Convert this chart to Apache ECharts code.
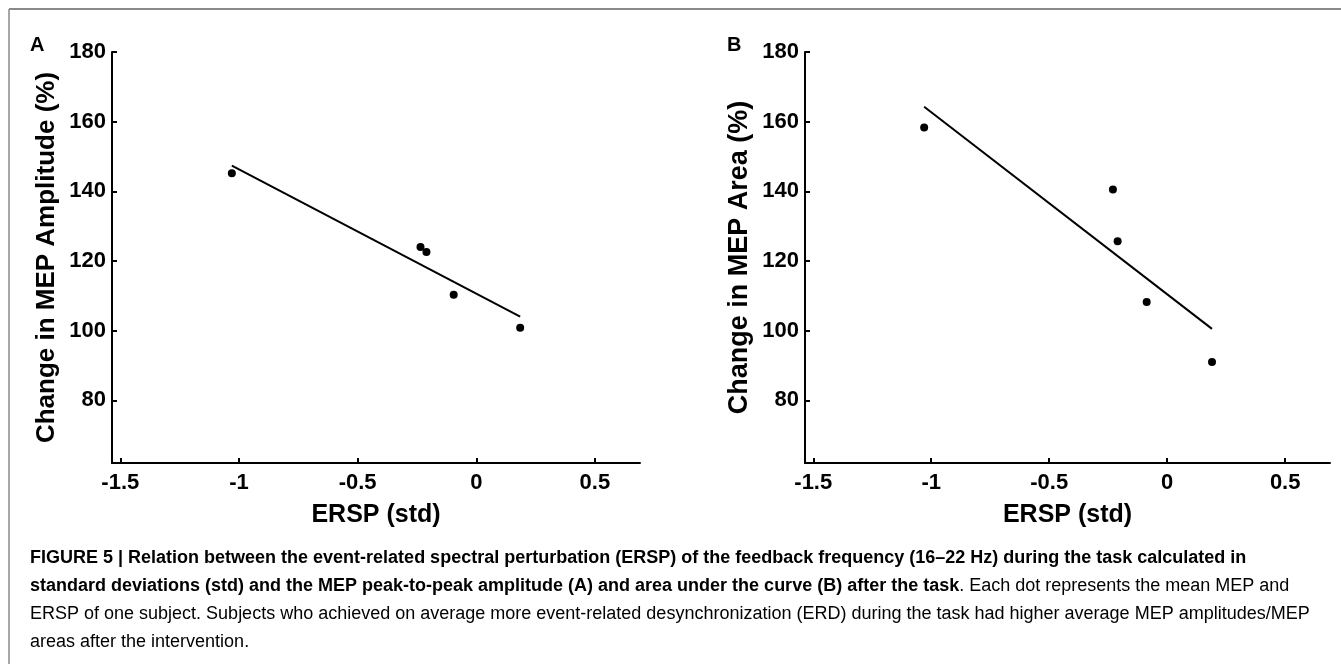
<!DOCTYPE html>
<html>
<head>
<meta charset="utf-8">
<script src="https://cdn.jsdelivr.net/npm/echarts@6/dist/echarts.min.js"></script>
<style>
  html, body { margin: 0; padding: 0; background: #fff; }
  #chart { width: 1341px; height: 664px; }
</style>
</head>
<body>
<div id="chart"></div>
<script>
// ERSP (std) vs change in MEP, one dot per subject
const ampPoints = [[-1.03, 145.2], [-0.235, 124.0], [-0.21, 122.6], [-0.095, 110.3], [0.185, 100.8]]
const ampFit = [[-1.03, 147.4], [0.185, 104.0]]
const areaPoints = [[-1.03, 158.3], [-0.23, 140.5], [-0.21, 125.7], [-0.087, 108.2], [0.19, 91.0]]
const areaFit = [[-1.03, 164.3], [0.19, 100.5]]
const xTicks = [-1.5, -1, -0.5, 0, 0.5]
const yTicks = [80, 100, 120, 140, 160, 180]

const font = '"Liberation Sans", Arial, sans-serif'

const chart = echarts.init(document.getElementById('chart'))

const makeX = (idx) => ({
  type: 'value',
  gridIndex: idx,
  min: -1.535,
  max: 0.69,
  name: 'ERSP (std)',
  nameLocation: 'middle',
  nameGap: 40,
  nameTextStyle: { color: '#000', fontSize: 25, fontWeight: 'bold', fontFamily: font },
  axisLine: { onZero: false, lineStyle: { color: '#000', width: 2 } },
  axisTick: { inside: true, length: 5, customValues: xTicks, lineStyle: { color: '#000', width: 2 } },
  axisLabel: {
    customValues: xTicks,
    margin: 9,
    color: '#000',
    fontSize: 22,
    fontWeight: 'bold',
    fontFamily: font,
    formatter: (v) => String(v)
  },
  splitLine: { show: false }
})

const makeY = (idx, name, size, gap) => ({
  type: 'value',
  gridIndex: idx,
  min: 62,
  max: 180,
  name: name,
  nameLocation: 'middle',
  nameGap: gap,
  nameTextStyle: { color: '#000', fontSize: size, fontWeight: 'bold', fontFamily: font },
  axisLine: { show: true, onZero: false, lineStyle: { color: '#000', width: 2 } },
  axisTick: { show: true, inside: true, length: 5, customValues: yTicks, lineStyle: { color: '#000', width: 2 } },
  axisLabel: {
    customValues: yTicks,
    margin: 6,
    color: '#000',
    fontSize: 22,
    fontWeight: 'bold',
    fontFamily: font
  },
  splitLine: { show: false }
})

const dots = (idx, data) => ({
  type: 'scatter',
  xAxisIndex: idx,
  yAxisIndex: idx,
  data: data,
  symbolSize: 8,
  itemStyle: { color: '#000', opacity: 1 },
  silent: true
})

const fit = (idx, data) => ({
  type: 'line',
  xAxisIndex: idx,
  yAxisIndex: idx,
  data: data,
  showSymbol: false,
  lineStyle: { color: '#000', width: 2 },
  silent: true
})

const captionRich = {
  b: { fontFamily: font, fontSize: 18, fontWeight: 'bold', color: '#231f20', lineHeight: 28 },
  r: { fontFamily: font, fontSize: 18, color: '#3c3c3c', lineHeight: 28 }
}

chart.setOption({
  animation: false,
  grid: [
    { left: 112, right: 701, top: 52, bottom: 201 },
    { left: 805, right: 11, top: 52, bottom: 201 }
  ],
  xAxis: [makeX(0), makeX(1)],
  yAxis: [
    makeY(0, 'Change in MEP Amplitude (%)', 26, 52),
    makeY(1, 'Change in MEP Area (%)', 27, 52)
  ],
  series: [dots(0, ampPoints), fit(0, ampFit), dots(1, areaPoints), fit(1, areaFit)],
  graphic: [
    { type: 'line', shape: { x1: 9, y1: 9, x2: 1341, y2: 9 }, style: { stroke: '#8a8a8a', lineWidth: 2 } },
    { type: 'line', shape: { x1: 9, y1: 9, x2: 9, y2: 664 }, style: { stroke: '#8a8a8a', lineWidth: 1.5 } },
    { type: 'text', left: 30, top: 35, style: { text: 'A', font: 'bold 20px ' + font, fill: '#000' } },
    { type: 'text', left: 727, top: 35, style: { text: 'B', font: 'bold 20px ' + font, fill: '#000' } },
    {
      type: 'text',
      x: 30,
      y: 544,
      style: {
        text: [
          '{b|FIGURE 5 | Relation between the event-related spectral perturbation (ERSP) of the feedback frequency (16–22 Hz) during the task calculated in}',
          '{b|standard deviations (std) and the MEP peak-to-peak amplitude (A) and area under the curve (B) after the task}{r|. Each dot represents the mean MEP and}',
          '{r|ERSP of one subject. Subjects who achieved on average more event-related desynchronization (ERD) during the task had higher average MEP amplitudes/MEP}',
          '{r|areas after the intervention.}'
        ].join('\n'),
        rich: captionRich
      }
    }
  ]
})
</script>
</body>
</html>
